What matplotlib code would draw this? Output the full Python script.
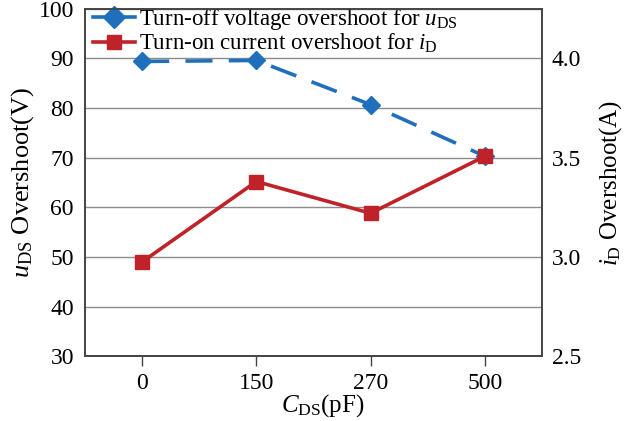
import matplotlib
matplotlib.use("Agg")
import matplotlib.pyplot as plt

plt.rcParams['font.family'] = ['Liberation Serif', 'DejaVu Serif']
plt.rcParams['mathtext.fontset'] = 'custom'
plt.rcParams['mathtext.rm'] = 'Liberation Serif'
plt.rcParams['mathtext.it'] = 'Liberation Serif:italic'

categories = ['0', '150', '270', '500']
u_ds = [89.4, 89.6, 80.7, 70.3]      # left axis, V
i_d = [2.975, 3.38, 3.22, 3.507]     # right axis, A

BLUE = '#1f6fbd'
RED = '#bf2229'

fig = plt.figure(figsize=(6.25, 4.21), dpi=100)
ax = fig.add_axes([0.136, 0.154, 0.731, 0.825])
ax2 = ax.twinx()

x = list(range(len(categories)))
l1, = ax.plot(x, u_ds, color=BLUE, lw=2.6, dashes=(7.5, 4.5), marker='D', ms=9,
              label='Turn-off voltage overshoot for $u_{\\rm DS}$')
l2, = ax2.plot(x, i_d, color=RED, lw=2.6, marker='s', ms=10,
               label='Turn-on current overshoot for $i_{\\rm D}$')

ax.set_xlim(-0.5, 3.5)
ax.set_ylim(30, 100)
ax2.set_ylim(2.5, 4.25)
ax.set_yticks(range(30, 101, 10))
ax2.set_yticks([2.5, 3.0, 3.5, 4.0])
ax2.set_yticklabels(['2.5', '3.0', '3.5', '4.0'])
ax.set_xticks(x)
ax.set_xticklabels(categories)

ax.yaxis.grid(True, color='#8c8c8c', lw=1)
ax.set_axisbelow(True)

ax.tick_params(axis='y', length=0, labelsize=17, pad=8)
ax2.tick_params(axis='y', length=0, labelsize=17, pad=7)
ax.tick_params(axis='x', length=7, width=1, color='#444444', labelsize=17, pad=5, direction='out')

for a in (ax, ax2):
    for s in a.spines.values():
        s.set_color('#444444')
        s.set_linewidth(1.2)

ax.set_ylabel('$u_{\\rm DS}$ Overshoot(V)', fontsize=19, labelpad=2)
ax2.set_ylabel('$i_{\\rm D}$ Overshoot(A)', fontsize=18, labelpad=12)
ax.set_xlabel('$C_{\\rm DS}$(pF)', fontsize=18, labelpad=-1)
ax.xaxis.label.set_x(0.52)

# legend handles drawn solid, like the original
h1 = plt.Line2D([], [], color=BLUE, lw=2.6, marker='D', ms=11)
h2 = plt.Line2D([], [], color=RED, lw=2.6, marker='s', ms=10)
leg = ax.legend(handles=[h1, h2], labels=[l1.get_label(), l2.get_label()],
                loc='upper left', bbox_to_anchor=(-0.012, 1.045),
                frameon=False, fontsize=16.5, handlelength=1.8, handletextpad=0.2,
                labelspacing=0.0, borderaxespad=0.2)

fig.savefig('out.png', dpi=100)
